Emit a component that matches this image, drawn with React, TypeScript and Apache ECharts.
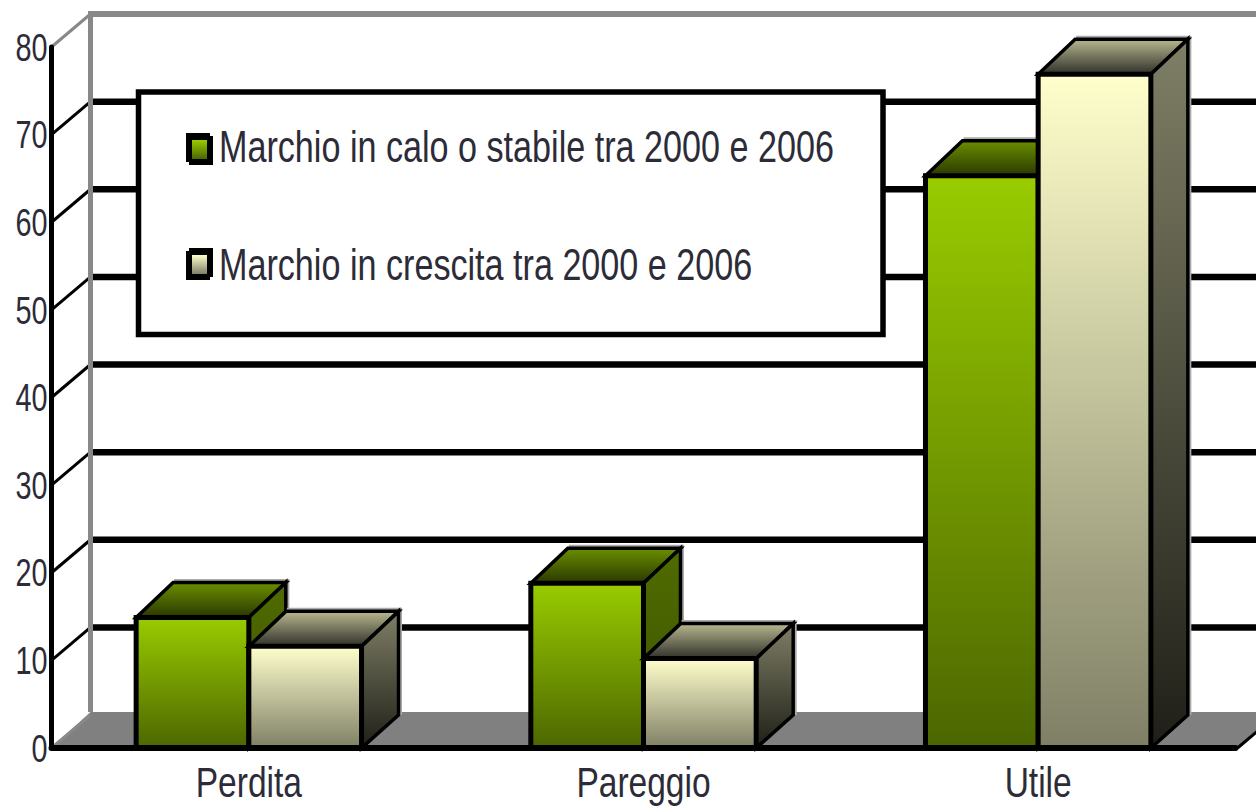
import React, { useEffect, useRef } from "react";
import * as echarts from "echarts";

const categories = ["Perdita", "Pareggio", "Utile"];
const seriesNames = [
  "Marchio in calo o stabile tra 2000 e 2006",
  "Marchio in crescita tra 2000 e 2006",
];
const calo = [14.9, 18.8, 65.3];
const crescita = [11.6, 10.2, 76.9];
const yTicks = [0, 10, 20, 30, 40, 50, 60, 70, 80];

const DX = 39;
const DY = 33;
const BAR_DX = 37;
const BAR_DY = 35;
const FONT = "'Liberation Sans', Arial, sans-serif";
const TEXT = "#2c2c38";

const grad = (a: string, b: string) =>
  new echarts.graphic.LinearGradient(0, 0, 0, 1, [
    { offset: 0, color: a },
    { offset: 1, color: b },
  ]);

const palettes = [
  {
    front: ["#99cc00", "#4c6600"],
    top: ["#6b8f00", "#2a3800"],
    side: ["#4f6b00", "#3f5500"],
  },
  {
    front: ["#ffffcc", "#7f7f66"],
    top: ["#b8b890", "#30302a"],
    side: ["#7f7f66", "#1f1f18"],
  },
];

const barRenderer = (which: number) => (_p: any, api: any) => {
  const cat = api.value(0);
  const [cx, yTop] = api.coord([cat, api.value(1)]);
  const [, yBase] = api.coord([cat, 0]);
  const w = (api.size([1, 0])[0] * 112.5) / 394;
  const x0 = which === 0 ? cx - w : cx;
  const x1 = x0 + w;
  const pal = palettes[which];
  return {
    type: "group",
    children: [
      {
        type: "polyline",
        shape: { points: [[x0 + BAR_DX + 1, yTop - BAR_DY - 2], [x1 + BAR_DX + 2, yTop - BAR_DY - 2], [x1 + BAR_DX + 2, yBase - DY]] },
        style: { stroke: "#aaaaaa", lineWidth: 3, fill: "none" },
      },
      {
        type: "polygon",
        shape: { points: [[x0, yTop], [x0 + BAR_DX, yTop - BAR_DY], [x1 + BAR_DX, yTop - BAR_DY], [x1, yTop]] },
        style: { fill: grad(pal.top[0], pal.top[1]), stroke: "#000", lineWidth: 3.5 },
      },
      {
        type: "polygon",
        shape: { points: [[x1, yTop], [x1 + BAR_DX, yTop - BAR_DY], [x1 + BAR_DX, yBase - DY], [x1, yBase]] },
        style: { fill: grad(pal.side[0], pal.side[1]), stroke: "#000", lineWidth: 3.5 },
      },
      {
        type: "rect",
        shape: { x: x0, y: yTop, width: w, height: yBase - yTop },
        style: { fill: grad(pal.front[0], pal.front[1]), stroke: "#000", lineWidth: 5 },
      },
    ],
  };
};

const wallRenderer = (params: any, api: any) => {
  const tick = api.value(1);
  const [, y] = api.coord([0, tick]);
  const left = params.coordSys.x;
  const right = left + params.coordSys.width;
  const far = right + DX + 40;
  const by = y - DY;
  const isTop = tick === yTicks[yTicks.length - 1];
  const isFloor = tick === 0;
  const children: any[] = [];
  if (isFloor) {
    children.push({
      type: "polygon",
      shape: { points: [[left, y], [left + DX, by - 3], [far + 40, by - 3], [right + 2, y]] },
      style: { fill: "#808080" },
    });
    children.push({
      type: "polygon",
      shape: { points: [[right + 3, y + 1], [right + DX + 3, by + 1], [far + 60, by + 1], [far + 60, y + 1]] },
      style: { fill: "#fff" },
    });
    children.push({
      type: "line",
      shape: { x1: right + 2, y1: y, x2: right + DX + 2, y2: by },
      style: { stroke: "#000", lineWidth: 3 },
    });
  } else {
    children.push({
      type: "line",
      shape: { x1: left + DX, y1: by, x2: far, y2: by },
      style: { stroke: isTop ? "#888888" : "#000", lineWidth: isTop ? 6 : 6.5 },
    });
  }
  children.push({
    type: "line",
    shape: { x1: left, y1: y, x2: left + DX, y2: by },
    style: { stroke: isTop || isFloor ? "#888888" : "#000", lineWidth: 3 },
  });
  if (isTop) {
    const [, y0] = api.coord([0, 0]);
    children.push({
      type: "line",
      shape: { x1: left + DX, y1: by - 3, x2: left + DX, y2: y0 - DY - 3 },
      style: { stroke: "#888888", lineWidth: 5 },
    });
  }
  return { type: "group", children };
};

const yLabelRenderer = (params: any, api: any) => {
  const tick = api.value(1);
  const [, y] = api.coord([0, tick]);
  return {
    type: "text",
    x: params.coordSys.x - 4,
    y,
    scaleX: 0.74,
    style: {
      text: String(tick),
      fontFamily: FONT,
      fontSize: 39,
      fill: TEXT,
      align: "right",
      verticalAlign: "middle",
    },
  };
};

const xLabelRenderer = (_p: any, api: any) => {
  const cat = api.value(0);
  const [cx, y] = api.coord([cat, 0]);
  return {
    type: "text",
    x: cx,
    y: y + 34,
    scaleX: 0.78,
    style: {
      text: categories[cat],
      fontFamily: FONT,
      fontSize: 43,
      fill: TEXT,
      align: "center",
      verticalAlign: "middle",
    },
  };
};

const swatch = (i: number, y: number, shift: number) => [
  { type: "rect", z: 11, shape: { x: 186 + (shift ? 3 : 0), y: y, width: 24, height: 29 }, style: { fill: "#000" } },
  { type: "rect", z: 11, shape: { x: 186 + (shift ? 0 : 3), y: y + 3, width: 24, height: 29 }, style: { fill: "#000" } },
  { type: "rect", z: 12, shape: { x: 192, y: y + 7, width: 15, height: 19 }, style: { fill: grad(palettes[i].front[0], palettes[i].front[1]) } },
];

const legendText = (i: number, y: number) => ({
  type: "text",
  z: 12,
  x: 219,
  y,
  scaleX: 0.776,
  style: {
    text: seriesNames[i],
    fontFamily: FONT,
    fontSize: 44,
    fill: TEXT,
    align: "left",
    verticalAlign: "middle",
  },
});

export default function App() {
  const ref = useRef<HTMLDivElement>(null);
  useEffect(() => {
    const chart = echarts.init(ref.current!, undefined, { renderer: "svg" });
    chart.setOption({
      animation: false,
      backgroundColor: "#ffffff",
      grid: { left: 51.5, right: 20.5, top: 47, bottom: 59 },
      xAxis: {
        type: "category",
        data: categories,
        z: 5,
        axisLine: { show: true, lineStyle: { color: "#000", width: 6 } },
        axisTick: { show: false },
        splitLine: { show: false },
        axisLabel: { show: false },
      },
      yAxis: {
        type: "value",
        min: 0,
        max: 80,
        interval: 10,
        z: 5,
        axisLine: { show: true, lineStyle: { color: "#000", width: 5 } },
        axisTick: { show: false },
        splitLine: { show: false },
        axisLabel: { show: false },
      },
      graphic: [
        {
          type: "rect",
          z: 10,
          shape: { x: 138.5, y: 92, width: 744.5, height: 242.5 },
          style: { fill: "#fff", stroke: "#000", lineWidth: 5.5 },
        },
        ...swatch(0, 133, 0),
        legendText(0, 146),
        ...swatch(1, 248, 1),
        legendText(1, 264),
      ],
      series: [
        {
          type: "custom",
          name: "wall",
          z: 1,
          silent: true,
          renderItem: wallRenderer,
          data: yTicks.map((t) => [0, t]),
          encode: { x: 0, y: 1 },
        },
        {
          type: "custom",
          name: seriesNames[0],
          z: 2,
          renderItem: barRenderer(0),
          data: calo.map((v, i) => [i, v]),
          encode: { x: 0, y: 1 },
        },
        {
          type: "custom",
          name: seriesNames[1],
          z: 3,
          renderItem: barRenderer(1),
          data: crescita.map((v, i) => [i, v]),
          encode: { x: 0, y: 1 },
        },
        {
          type: "custom",
          name: "yLabels",
          z: 6,
          silent: true,
          renderItem: yLabelRenderer,
          data: yTicks.map((t) => [0, t]),
          encode: { x: 0, y: 1 },
        },
        {
          type: "custom",
          name: "xLabels",
          z: 6,
          silent: true,
          renderItem: xLabelRenderer,
          data: categories.map((_c, i) => [i, 0]),
          encode: { x: 0, y: 1 },
        },
      ],
    });
    return () => chart.dispose();
  }, []);
  return (
    <div
      ref={ref}
      style={{ position: "fixed", left: 0, top: 0, width: 1256, height: 807 }}
    />
  );
}
